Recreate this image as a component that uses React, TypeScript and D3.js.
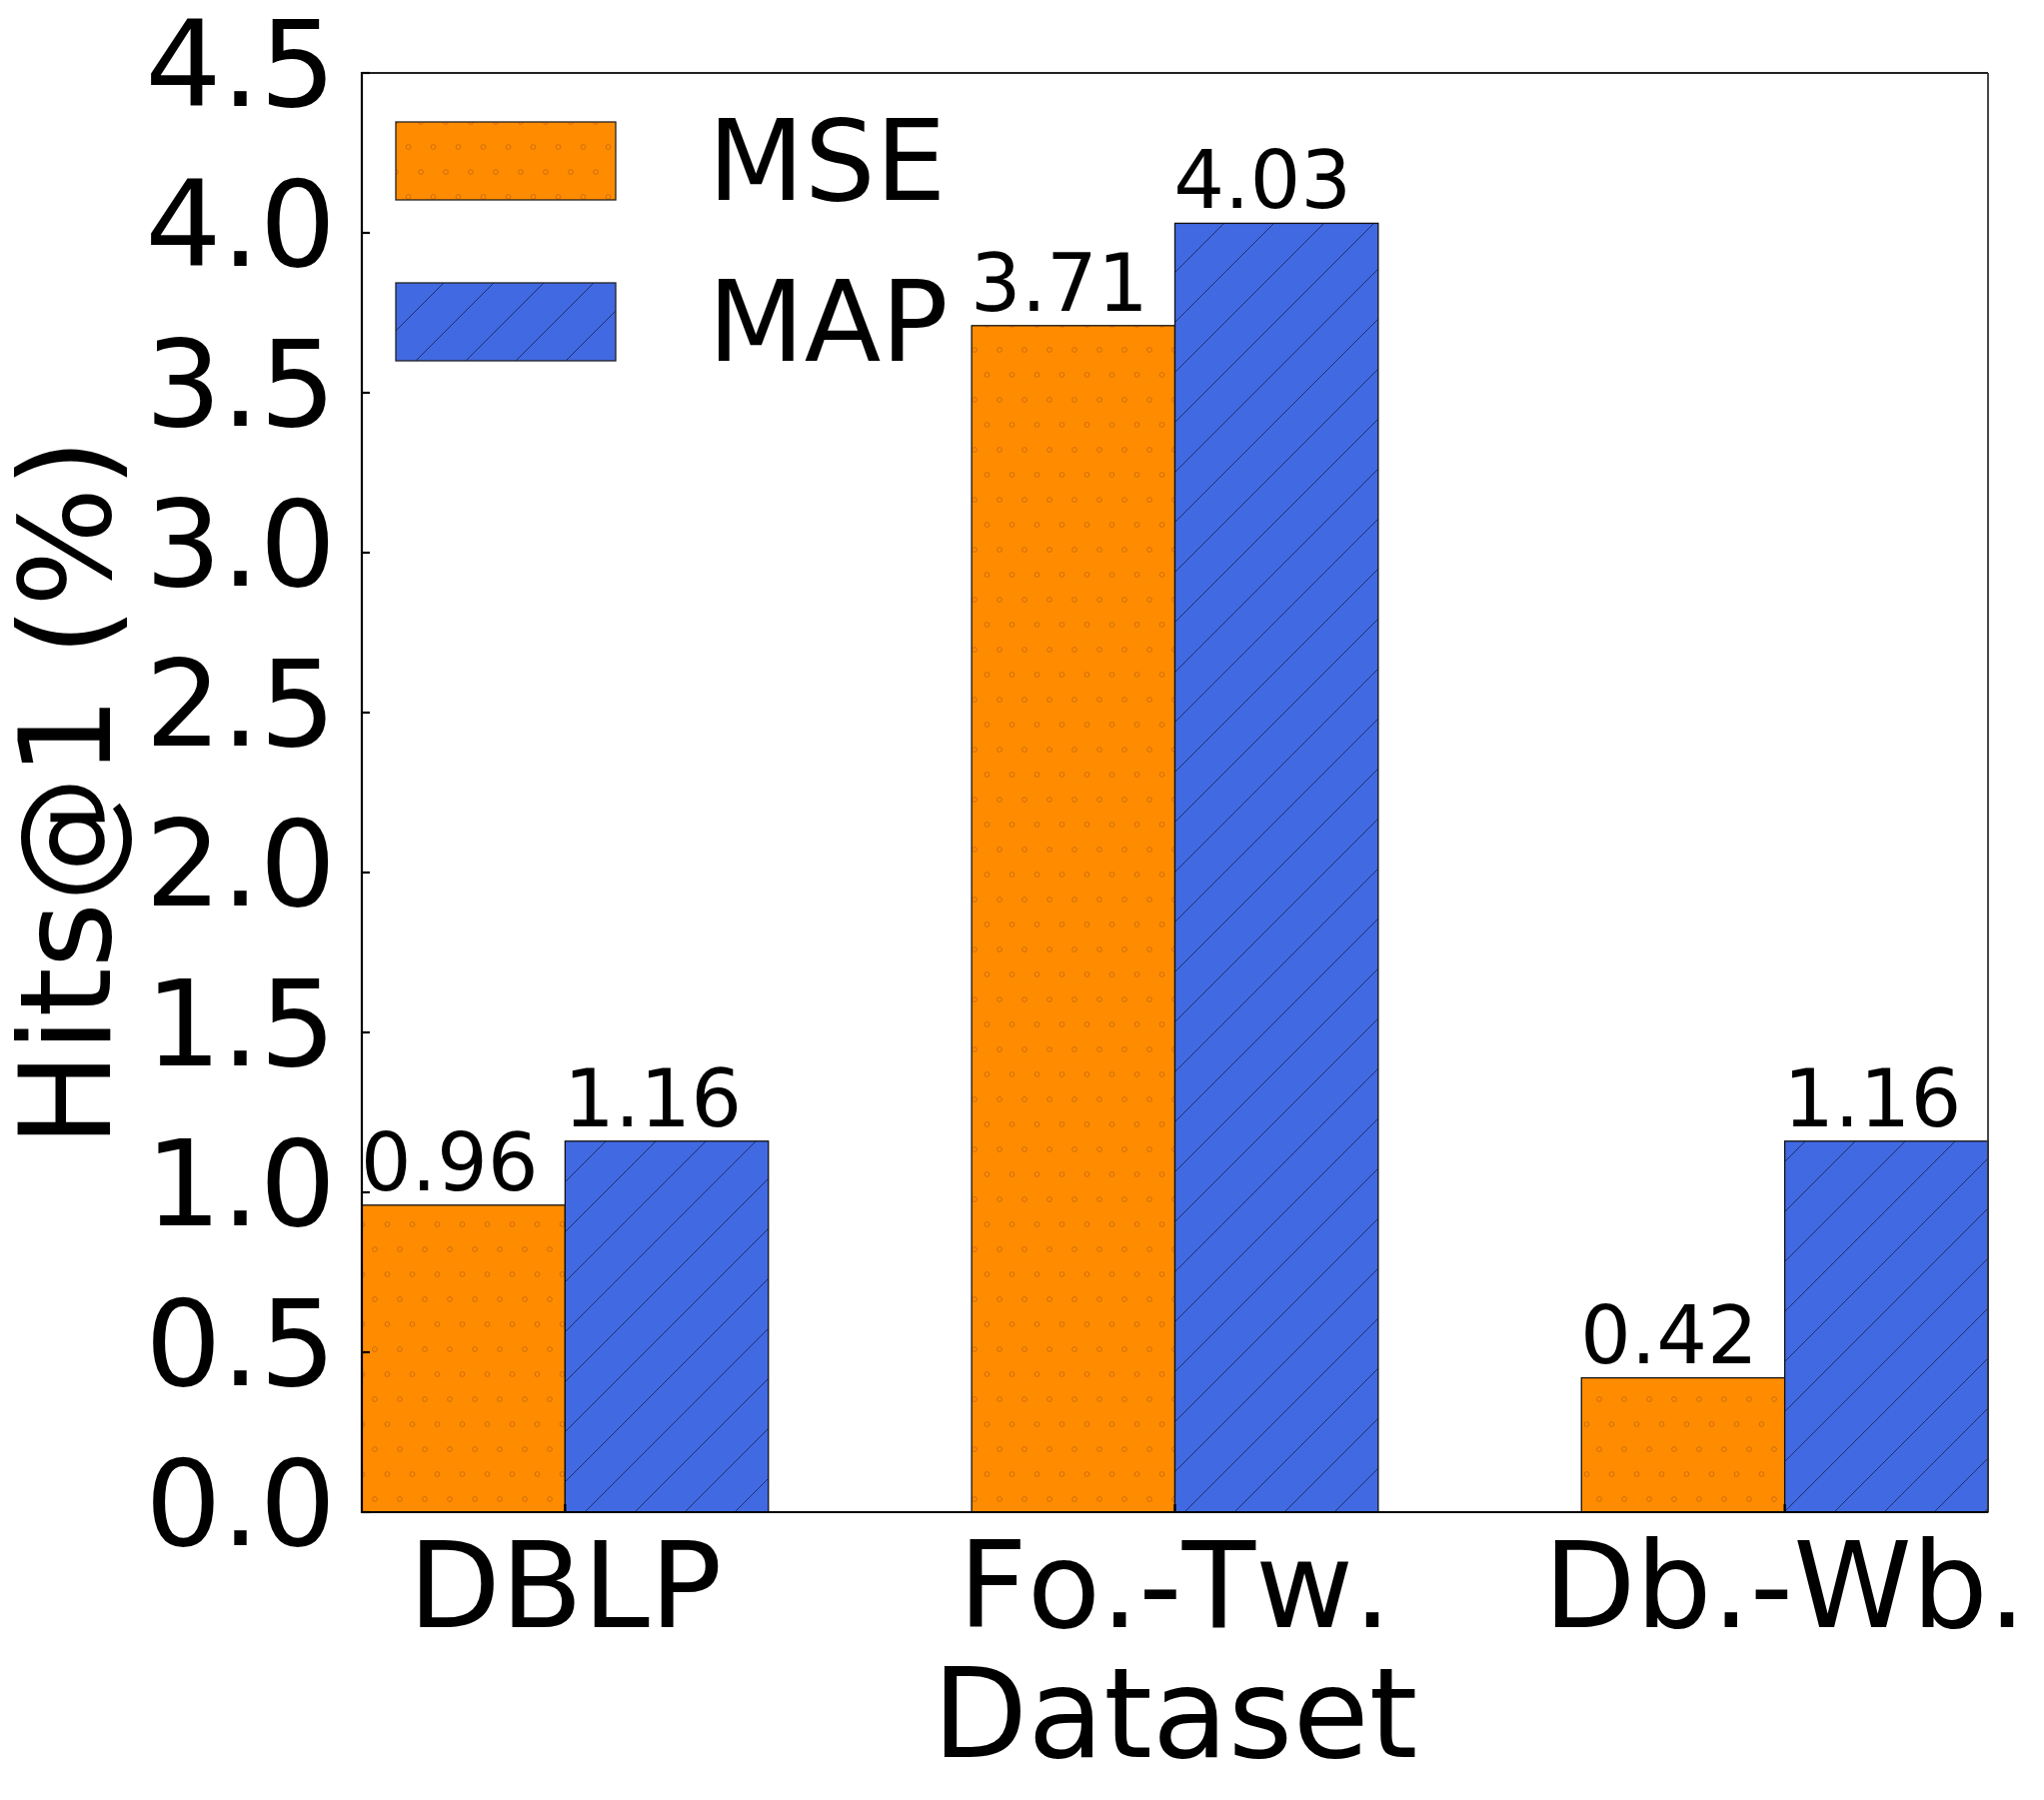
import * as d3 from 'd3'

// data
const datasets = ['DBLP', 'Fo.-Tw.', 'Db.-Wb.']
const seriesNames = ['MSE', 'MAP']
const mseValues = [0.96, 3.71, 0.42]
const mapValues = [1.16, 4.03, 1.16]
const yTicks = [0, 0.5, 1, 1.5, 2, 2.5, 3, 3.5, 4, 4.5]

const W = 2045
const H = 1801
const FONT = '"DejaVu Sans", Verdana, sans-serif'

export default function App() {
    const marginLeft = 362
    const marginRight = W - 1989
    const marginTop = 73
    const marginBottom = H - 1513

    const x = d3.scaleBand<string>()
        .domain(datasets)
        .range([marginLeft, W - marginRight])
        .paddingInner(1 / 3)
        .paddingOuter(0)
    const xs = d3.scaleBand<string>()
        .domain(seriesNames)
        .range([0, x.bandwidth()])
    const y = d3.scaleLinear()
        .domain([0, 4.5])
        .range([H - marginBottom, marginTop])

    const fills: Record<string, string> = { MSE: 'url(#hatchO)', MAP: 'url(#hatchS)' }
    const values: Record<string, number[]> = { MSE: mseValues, MAP: mapValues }

    const bars = seriesNames.flatMap((s) =>
        datasets.map((d, i) => ({ s, d, v: values[s][i] }))
    )

    const y0 = y(0)
    const x0 = marginLeft
    const x1 = W - marginRight

    return (
        <div style={{ position: 'absolute', left: 0, top: 0 }}>
            <svg width={W} height={H} style={{ display: 'block', background: '#fff', fontKerning: 'none' }} fontFamily={FONT}>
                <defs>
                    <pattern id="hatchO" patternUnits="userSpaceOnUse" width={25} height={50}>
                        <rect width={25} height={50} fill="#FF8C00" />
                        {[[0, 0], [25, 0], [0, 50], [25, 50], [12.5, 25]].map(([cx, cy], i) => (
                            <circle key={i} cx={cx} cy={cy} r={2.4} fill="none" stroke="#C9680E" strokeWidth={0.9} />
                        ))}
                    </pattern>
                    <pattern id="hatchS" patternUnits="userSpaceOnUse" width={50} height={50} x={-2}>
                        <rect width={50} height={50} fill="#4169E1" />
                        <path d="M0,50 L50,0 M-5,5 L5,-5 M45,55 L55,45" stroke="#1d2f6b" strokeWidth={1} />
                    </pattern>
                </defs>

                {/* bars */}
                <g>
                    {bars.map((b) => (
                        <rect
                            key={b.s + b.d}
                            x={(x(b.d) ?? 0) + (xs(b.s) ?? 0)}
                            y={y(b.v)}
                            width={xs.bandwidth()}
                            height={y0 - y(b.v)}
                            fill={fills[b.s]}
                            stroke="#111"
                            strokeWidth={1.3}
                        />
                    ))}
                </g>

                {/* value labels */}
                <g fontSize={80} textAnchor="middle" fill="#000">
                    {bars.map((b) => (
                        <text
                            key={'t' + b.s + b.d}
                            x={(x(b.d) ?? 0) + (xs(b.s) ?? 0) + xs.bandwidth() / 2 - 14}
                            y={y(b.v) - 15}
                        >
                            {b.v.toFixed(2)}
                        </text>
                    ))}
                </g>

                {/* frame */}
                <line x1={x0} x2={x1} y1={marginTop} y2={marginTop} stroke="#222" strokeWidth={1.8} />
                <line x1={x1} x2={x1} y1={marginTop} y2={y0} stroke="#333" strokeWidth={1.8} />
                <line x1={x0} x2={x0} y1={marginTop - 1} y2={y0 + 1} stroke="#000" strokeWidth={2.2} />
                <line x1={x0 - 1} x2={x1} y1={y0} y2={y0} stroke="#000" strokeWidth={2.2} />

                {/* y ticks */}
                <g>
                    {yTicks.map((t) => (
                        <g key={t}>
                            <line x1={x0} x2={x0 + 8} y1={y(t)} y2={y(t)} stroke="#000" strokeWidth={2.2} />
                            <text x={336} y={y(t) + 33} fontSize={120} textAnchor="end">
                                {t.toFixed(1)}
                            </text>
                        </g>
                    ))}
                </g>

                {/* x ticks */}
                <g>
                    {datasets.map((d) => {
                        const cx = (x(d) ?? 0) + x.bandwidth() / 2
                        return (
                            <g key={d}>
                                <line x1={cx} x2={cx} y1={y0} y2={y0 - 8} stroke="#000" strokeWidth={2.2} />
                                <text x={cx} y={1628} fontSize={120} textAnchor="middle">
                                    {d}
                                </text>
                            </g>
                        )
                    })}
                </g>

                {/* axis titles */}
                <text x={(x0 + x1) / 2} y={1758} fontSize={124} textAnchor="middle">Dataset</text>
                <text
                    transform={`translate(110,${(marginTop + y0) / 2}) rotate(-90)`}
                    fontSize={126}
                    textAnchor="middle"
                >
                    Hits@1 (%)
                </text>

                {/* legend */}
                <g>
                    {seriesNames.map((s, i) => (
                        <g key={s} transform={`translate(396,${122 + i * 161})`}>
                            <rect width={220} height={78} fill={fills[s]} stroke="#222" strokeWidth={1.3} />
                            <text x={312} y={78} fontSize={112}>{s}</text>
                        </g>
                    ))}
                </g>
            </svg>
        </div>
    )
}
